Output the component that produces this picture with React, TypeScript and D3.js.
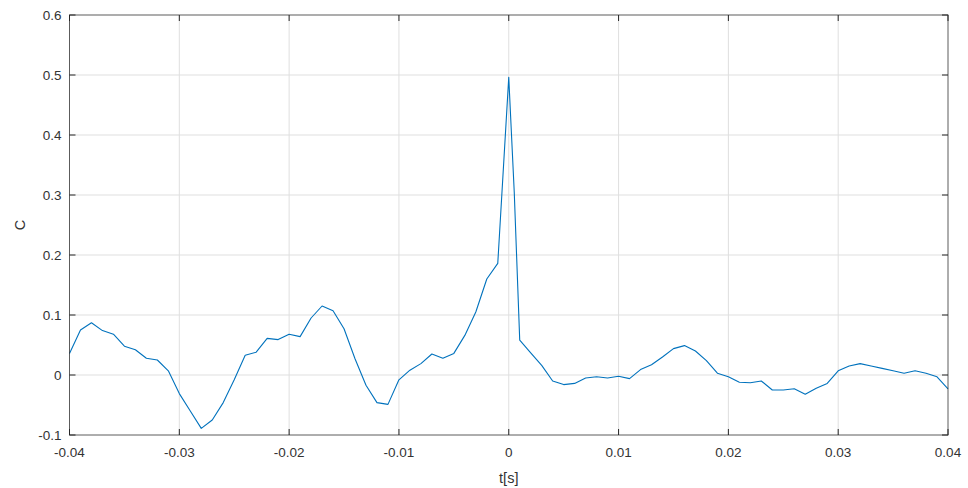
import React from "react";
import * as d3 from "d3";

// Sample times (s) and correlation values
const times: number[] = [
  -0.04, -0.039, -0.038, -0.037, -0.036, -0.035, -0.034, -0.033, -0.032, -0.031,
  -0.03, -0.029, -0.028, -0.027, -0.026, -0.025, -0.024, -0.023, -0.022, -0.021,
  -0.02, -0.019, -0.018, -0.017, -0.016, -0.015, -0.014, -0.013, -0.012, -0.011,
  -0.01, -0.009, -0.008, -0.007, -0.006, -0.005, -0.004, -0.003, -0.002, -0.001,
  0, 0.0005, 0.001, 0.002, 0.003, 0.004, 0.005, 0.006, 0.007, 0.008, 0.009,
  0.01, 0.011, 0.012, 0.013, 0.014, 0.015, 0.016, 0.017, 0.018, 0.019,
  0.02, 0.021, 0.022, 0.023, 0.024, 0.025, 0.026, 0.027, 0.028, 0.029,
  0.03, 0.031, 0.032, 0.033, 0.034, 0.035, 0.036, 0.037, 0.038, 0.039, 0.04,
];

const values: number[] = [
  0.036, 0.075, 0.087, 0.074, 0.068, 0.048, 0.042, 0.028, 0.025, 0.007,
  -0.031, -0.06, -0.089, -0.075, -0.046, -0.008, 0.033, 0.038, 0.061, 0.059,
  0.068, 0.064, 0.095, 0.115, 0.107, 0.077, 0.027, -0.017, -0.046, -0.049,
  -0.008, 0.008, 0.019, 0.035, 0.028, 0.036, 0.066, 0.105, 0.16, 0.186,
  0.496, 0.305, 0.058, 0.037, 0.016, -0.01, -0.016, -0.014, -0.005, -0.003, -0.005,
  -0.002, -0.006, 0.009, 0.017, 0.03, 0.044, 0.049, 0.04, 0.024, 0.003,
  -0.003, -0.012, -0.013, -0.01, -0.025, -0.025, -0.023, -0.032, -0.022, -0.014,
  0.007, 0.015, 0.019, 0.015, 0.011, 0.007, 0.003, 0.007, 0.003, -0.003, -0.023,
];

const xTicks: number[] = [-0.04, -0.03, -0.02, -0.01, 0, 0.01, 0.02, 0.03, 0.04];
const yTicks: number[] = [-0.1, 0, 0.1, 0.2, 0.3, 0.4, 0.5, 0.6];

const W = 968;
const H = 488;
const M = { left: 69.5, right: 20, top: 15, bottom: 53 };

export default function App() {
  const x = d3.scaleLinear().domain([-0.04, 0.04]).range([M.left, W - M.right]);
  const y = d3.scaleLinear().domain([-0.1, 0.6]).range([H - M.bottom, M.top]);
  const pts: [number, number][] = times.map((t, i) => [t, values[i]]);
  const line = d3
    .line<[number, number]>()
    .x((d) => x(d[0]))
    .y((d) => y(d[1]));

  const x0 = M.left;
  const x1 = W - M.right;
  const y0 = H - M.bottom;
  const y1 = M.top;
  const axisColor = "#262626";
  const textColor = "#333333";
  const font = "'Liberation Sans', Arial, sans-serif";
  const fmt = (v: number) => (Math.abs(v) < 1e-12 ? "0" : String(+v.toFixed(3)));

  return (
    <svg
      width={W}
      height={H}
      style={{ position: "absolute", left: 0, top: 0, background: "#fff" }}
    >
      <rect x={0} y={0} width={W} height={H} fill="#fff" />
      {/* grid */}
      <g stroke="#dfdfdf" strokeWidth={1}>
        {xTicks.slice(1, -1).map((t) => (
          <line key={"gx" + t} x1={x(t)} x2={x(t)} y1={y1} y2={y0} />
        ))}
        {yTicks.slice(1, -1).map((t) => (
          <line key={"gy" + t} x1={x0} x2={x1} y1={y(t)} y2={y(t)} />
        ))}
      </g>
      {/* data */}
      <path d={line(pts) ?? ""} fill="none" stroke="#0072BD" strokeWidth={1.1} strokeLinejoin="round" />
      {/* box + ticks */}
      <g stroke={axisColor} strokeWidth={1} fill="none">
        <rect x={x0} y={y1} width={x1 - x0} height={y0 - y1} strokeOpacity={0.75} />
        {xTicks.map((t) => (
          <g key={"tx" + t}>
            <line x1={x(t)} x2={x(t)} y1={y0} y2={y0 - 6} />
            <line x1={x(t)} x2={x(t)} y1={y1} y2={y1 + 6} />
          </g>
        ))}
        {yTicks.map((t) => (
          <g key={"ty" + t}>
            <line x1={x0} x2={x0 + 6} y1={y(t)} y2={y(t)} />
            <line x1={x1} x2={x1 - 6} y1={y(t)} y2={y(t)} />
          </g>
        ))}
      </g>
      {/* tick labels */}
      <g fontFamily={font} fontSize={13.5} fill={textColor}>
        {xTicks.map((t) => (
          <text key={"lx" + t} x={x(t)} y={y0 + 22} textAnchor="middle">
            {fmt(t)}
          </text>
        ))}
        {yTicks.map((t) => (
          <text key={"ly" + t} x={x0 - 8} y={y(t) + 5} textAnchor="end">
            {fmt(t)}
          </text>
        ))}
        <text x={(x0 + x1) / 2} y={y0 + 48} textAnchor="middle" fontSize={14.5}>
          t[s]
        </text>
        <text
          transform={`translate(${x0 - 45},${(y0 + y1) / 2}) rotate(-90)`}
          textAnchor="middle"
          fontSize={14.5}
        >
          C
        </text>
      </g>
    </svg>
  );
}
